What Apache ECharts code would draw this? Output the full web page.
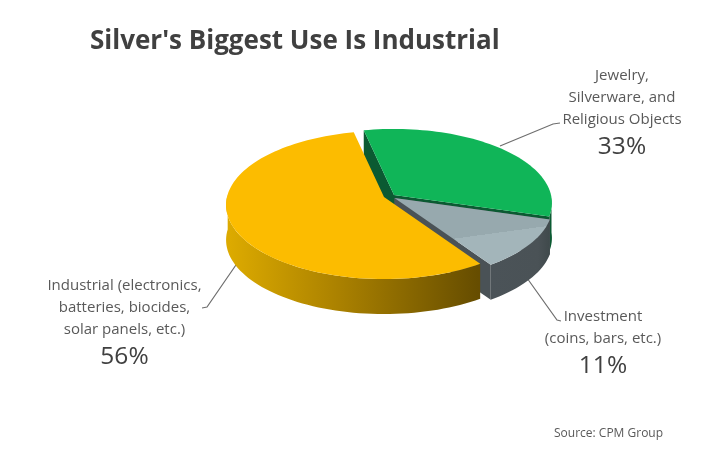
<!DOCTYPE html>
<html>
<head>
<meta charset="utf-8">
<style>html,body{margin:0;padding:0;background:#fff}#c{width:709px;height:452px}</style>
<script src="https://cdn.jsdelivr.net/npm/echarts@6/dist/echarts.min.js"></script>
</head>
<body>
<div id="c"></div>
<script>
var categories = ['Jewelry,\nSilverware, and\nReligious Objects', 'Investment\n(coins, bars, etc.)', 'Industrial (electronics,\nbatteries, biocides,\nsolar panels, etc.)'];
var values = [33, 11, 56];
var topColors = ['#10b558', '#97a9ae', '#fcbc00'];
var wallColors = ['#0b5a32', '#4a5256', '#a87f00'];
var apexX = [394, 394.5, 384];
var apexY = [195, 198, 197];
var startAngle = -12.3;
var A = 157, B = 73.2, K = 0.108, DEPTH = 35;
var total = values.reduce(function (a, b) { return a + b; }, 0);

function pt(i, deg, dz) {
  var t = deg * Math.PI / 180, w = 1 + K * Math.cos(t);
  return [apexX[i] + A * Math.sin(t) / w, apexY[i] - B * Math.cos(t) / w + dz];
}
function arc(i, a0, a1, dz) {
  var out = [], n = Math.max(2, Math.ceil(Math.abs(a1 - a0) / 2));
  for (var j = 0; j <= n; j++) out.push(pt(i, a0 + (a1 - a0) * j / n, dz));
  return out;
}
function poly(points, fill) {
  return { type: 'polygon', shape: { points: points }, style: { fill: fill, stroke: null } };
}
function grad(x, y, x2, y2, stops) {
  return { type: 'linear', x: x, y: y, x2: x2, y2: y2, global: true,
    colorStops: stops.map(function (s) { return { offset: s[0], color: s[1] }; }) };
}
var cum = [];
values.reduce(function (s, v, i) { cum[i] = s; return s + v; }, 0);

function renderSlice(params, api) {
  var i = params.dataIndex;
  var a0 = startAngle + api.value(1) / total * 360;
  var a1 = a0 + api.value(0) / total * 360;
  var ap = [apexX[i], apexY[i]], apB = [apexX[i], apexY[i] + DEPTH];
  var kids = [];
  var wallFill = wallColors[i], topFill = topColors[i];
  if (i === 2) wallFill = grad(230, 0, 478, 0, [[0, '#dcaa00'], [0.45, '#a98000'], [1, '#664d00']]);
  if (i === 1) {
    wallFill = grad(490, 0, 550, 0, [[0, '#4b5358'], [0.8, '#4a5256'], [1, '#3f494b']]);
    topFill = grad(450.6, 232, 452.5, 246, [[0, '#97a9ae'], [0.5, '#97a9ae'], [0.5, '#a3b5ba'], [1, '#a3b5ba']]);
  }
  if (i !== 2) {
    var endTop = pt(i, a1, 0), endBot = pt(i, a1, DEPTH);
    kids.push(poly([ap, endTop, endBot, apB], wallColors[i]));
    var stTop = pt(i, a0, 0), stBot = pt(i, a0, DEPTH);
    kids.push(poly([ap, stTop, stBot, apB], wallColors[i]));
  }
  var w0 = Math.max(a0, 92), w1 = Math.min(a1, 272);
  if (w1 > w0) {
    kids.push(poly(arc(i, w0, w1, 0).concat(arc(i, w1, w0, DEPTH)), wallFill));
  }
  kids.push(poly([ap].concat(arc(i, a0, a1, 0)), topFill));
  return { type: 'group', children: kids };
}

var seriesData = values.map(function (v, i) { return { name: categories[i], value: [v, cum[i]] }; });
function label(x, y, lines, pct) {
  return [
    { type: 'text', x: x, y: y, style: { text: lines, fill: '#595959', font: '15px "Open Sans"', align: 'center', verticalAlign: 'top', lineHeight: 22 } },
    { type: 'text', x: x, y: y + lines.split('\n').length * 22 + 4, style: { text: pct + '%', fill: '#404040', font: '24.5px "Open Sans"', align: 'center', verticalAlign: 'top' } }
  ];
}
function leader(points) {
  return { type: 'polyline', shape: { points: points }, style: { stroke: '#6e6e6e', lineWidth: 1.2, fill: null } };
}
var chart = echarts.init(document.getElementById('c'));
chart.setOption({
  backgroundColor: '#fff',
  animation: false,
  title: { text: "Silver's Biggest Use Is Industrial", left: 85, top: 24,
    textStyle: { fontFamily: 'Open Sans', fontSize: 26, fontWeight: 'bold', color: '#404040' } },
  series: [{ type: 'custom', coordinateSystem: 'none', renderItem: renderSlice, data: seriesData, silent: true }],
  graphic: { elements: [
    leader([[500, 146], [553, 124], [560, 123]]),
    leader([[238, 262], [207, 307], [202, 308]]),
    leader([[527, 278], [557, 320], [561, 321]])
  ].concat(
    label(622, 65, categories[0], values[0]),
    label(603, 306, categories[1], values[1]),
    label(124.5, 275, categories[2], values[2]),
    [{ type: 'text', x: 554, y: 428, style: { text: 'Source: CPM Group', fill: '#595959', font: '12px "Open Sans"' } }]
  ) }
});
</script>
</body>
</html>
